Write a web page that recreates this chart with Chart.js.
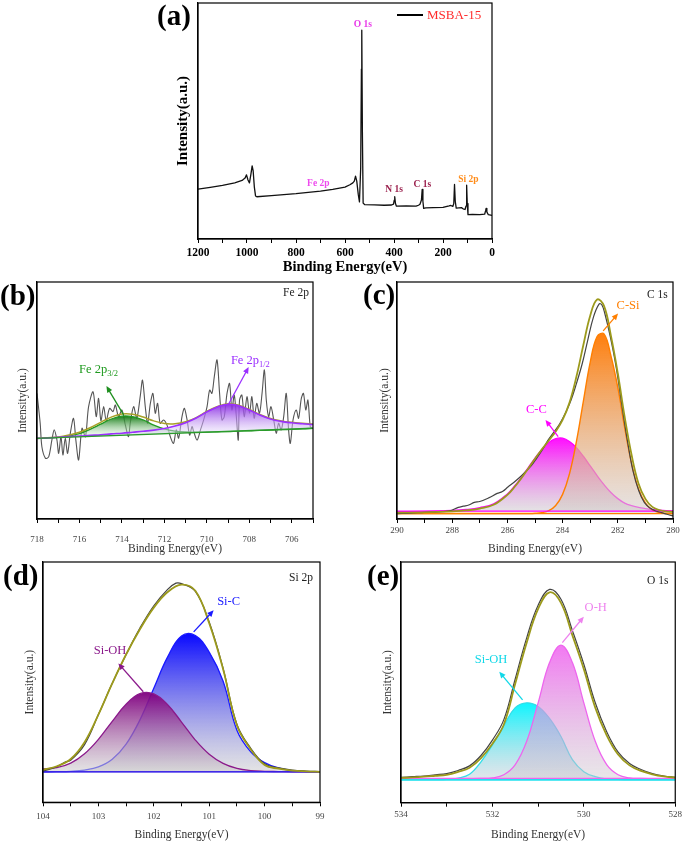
<!DOCTYPE html>
<html>
<head>
<meta charset="utf-8">
<title>XPS spectra MSBA-15</title>
<script src="https://cdn.jsdelivr.net/npm/chart.js@4.4.1/dist/chart.umd.min.js"></script>
<style>
    body { margin: 0; background: #fff; font-family: 'Liberation Serif', 'Times New Roman', serif; }
    .page { position: relative; width: 685px; height: 842px; overflow: hidden; background: #fff; }
    .panel { position: absolute; }
    .tag { position: absolute; font-weight: bold; font-size: 29px; line-height: 29px; color: #000; }
    .corner { position: absolute; font-size: 11.5px; line-height: 12px; color: #222; }
    .legend-line { position: absolute; left: 397px; top: 14px; width: 26px; height: 1.6px; background: #000; }
    .legend-text { position: absolute; left: 427px; top: 7px; font-size: 13px; line-height: 15px; color: #ff2b2b; }
</style>
</head>
<body>
<div class="page">
    <div class="panel" style="left:140px;top:0;width:360px;height:280px"><canvas id="surveyChart"></canvas></div>
    <div class="panel" style="left:0;top:280px;width:330px;height:280px"><canvas id="feChart"></canvas></div>
    <div class="panel" style="left:340px;top:280px;width:345px;height:280px"><canvas id="cChart"></canvas></div>
    <div class="panel" style="left:0;top:560px;width:330px;height:282px"><canvas id="siChart"></canvas></div>
    <div class="panel" style="left:340px;top:560px;width:345px;height:282px"><canvas id="oChart"></canvas></div>

    <div class="tag" style="left:157px;top:1px">(a)</div>
    <div class="tag" style="left:0;top:281px">(b)</div>
    <div class="tag" style="left:363px;top:280px">(c)</div>
    <div class="tag" style="left:3px;top:561px">(d)</div>
    <div class="tag" style="left:367px;top:561px">(e)</div>

    <div class="corner" style="left:283px;top:286px">Fe 2p</div>
    <div class="corner" style="left:647px;top:288px">C 1s</div>
    <div class="corner" style="left:289px;top:571px">Si 2p</div>
    <div class="corner" style="left:647px;top:574px">O 1s</div>

    <div class="legend-line"></div>
    <div class="legend-text">MSBA-15</div>
</div>
<script>
// (a) survey spectrum
const surveyEnergy = [1200, 1150, 1100, 1050, 1020, 1008, 1002, 996, 990, 984, 979, 975, 970, 965, 960, 900, 850, 800, 750, 700,
    650, 600, 580, 568, 562, 557, 552, 546, 541, 536, 533, 531.5, 529, 526, 520, 480, 440, 410, 402, 399,
    397, 394, 390, 350, 310, 300, 294, 288, 285, 282, 279, 270, 240, 200, 175, 168, 160, 156, 153, 150,
    146, 135, 125, 118, 110, 106, 103.5, 101, 98, 80, 50, 30, 26, 24, 21, 15, 5, 0];
const surveyCounts = [21.1, 21.9, 22.7, 23.8, 24.8, 25.8, 27.2, 25.0, 23.8, 27.5, 31.0, 29.0, 22.0, 18.2, 17.9, 18.4, 18.8, 19.2, 19.8, 20.3,
    21.0, 22.0, 23.0, 23.8, 24.5, 26.6, 24.5, 19.0, 15.7, 30.0, 72.0, 88.5, 45.0, 15.2, 14.6, 14.5, 14.3, 14.4, 14.8, 16.5,
    17.9, 15.0, 13.9, 14.0, 13.9, 14.3, 14.7, 16.5, 21.0, 16.0, 13.0, 13.2, 13.3, 13.4, 14.0, 14.2, 13.8, 15.0, 23.1, 16.0,
    13.1, 13.2, 13.3, 12.8, 12.5, 14.0, 22.8, 15.0, 10.3, 10.4, 10.3, 10.5, 12.0, 13.0, 11.5, 10.3, 10.1, 10.0];

// (b) Fe 2p
const feRawEnergy = [718.0, 717.85, 717.77, 717.6, 717.45, 717.3, 717.19, 717.06, 716.98, 716.87,
    716.78, 716.67, 716.56, 716.43, 716.28, 716.17, 716.04, 715.88, 715.72, 715.57,
    715.36, 715.21, 715.10, 714.99, 714.86, 714.74, 714.58, 714.42, 714.31, 714.16,
    714.00, 713.84, 713.69, 713.61, 713.45, 713.30, 713.13, 713.03, 712.90, 712.79,
    712.66, 712.54, 712.43, 712.32, 712.20, 712.04, 711.88, 711.72, 711.57, 711.44,
    711.33, 711.17, 711.06, 710.93, 710.81, 710.70, 710.62, 710.46, 710.30, 710.15,
    709.99, 709.87, 709.76, 709.65, 709.52, 709.40, 709.29, 709.18, 709.05, 708.93,
    708.82, 708.71, 708.61, 708.52, 708.46, 708.35, 708.24, 708.11, 707.99, 707.88,
    707.77, 707.65, 707.52, 707.40, 707.29, 707.20, 707.09, 706.98, 706.85, 706.73,
    706.62, 706.50, 706.38, 706.26, 706.15, 706.07, 705.94, 705.79, 705.68, 705.55,
    705.45, 705.34, 705.24, 705.13, 705.05];
const feRaw = [53.0, 40.4, 30.5, 25.6, 26.2, 33.3, 37.6, 33.3, 27.7, 34.7,
    27.0, 34.0, 27.7, 36.2, 42.5, 33.3, 24.9, 38.3, 34.7, 47.4,
    53.7, 43.2, 50.9, 41.5, 47.4, 41.5, 46.7, 45.3, 48.1, 43.2,
    46.0, 39.7, 34.7, 40.4, 47.4, 42.5, 52.3, 58.6, 47.4, 40.4,
    48.8, 53.0, 44.6, 48.8, 40.4, 41.8, 39.7, 34.7, 31.9, 37.6,
    34.1, 43.2, 46.7, 41.8, 35.4, 39.0, 36.9, 33.3, 37.6, 41.8,
    47.4, 54.4, 53.0, 60.0, 67.1, 53.0, 41.8, 43.2, 53.0, 57.2,
    46.0, 52.3, 43.2, 33.3, 50.2, 52.3, 43.2, 51.6, 44.6, 51.6,
    42.5, 48.8, 44.6, 53.0, 62.9, 50.2, 43.2, 47.4, 41.8, 36.2,
    40.4, 37.6, 43.2, 53.0, 37.6, 31.9, 41.8, 46.0, 42.5, 50.9,
    53.0, 46.0, 50.2, 39.0, 38.3];
const feFitEnergy = [718, 717.5, 717, 716.5, 716, 715.5, 715, 714.5, 714, 713.5, 713, 712.5, 712, 711.5,
    711, 710.5, 710, 709.5, 709, 708.5, 708, 707.5, 707, 706.5, 706, 705.5, 705];
const fe2p32 = [34.0, 34.2, 34.4, 35.0, 36.0, 37.8, 40.0, 42.2, 43.4, 43.2, 41.8, 39.6, 38.0, 37.1,
    36.7, 36.6, 36.7, 36.8, 36.9, 37.1, 37.2, 37.4, 37.5, 37.7, 37.8, 38.0, 38.3];
const fe2p12 = [34.0, 34.2, 34.5, 34.8, 35.0, 35.3, 35.5, 35.9, 36.2, 36.6, 37.0, 37.5, 38.2, 39.2,
    40.6, 42.6, 45.2, 47.3, 48.4, 47.8, 46.0, 43.9, 42.2, 41.2, 40.6, 40.2, 39.9];
const feEnvelope = [34.0, 34.3, 34.6, 35.4, 36.6, 38.5, 40.8, 43.0, 44.3, 44.2, 43.0, 41.4, 40.3, 40.2,
    41.0, 42.8, 45.4, 47.5, 48.6, 48.0, 46.2, 44.1, 42.4, 41.4, 40.8, 40.4, 40.1];
const feBaseEnergy = [718, 705];
const feBaseline = [34.0, 38.3];

// (c) C 1s
const cRawEnergy = [290, 289.5, 289, 288.5, 288.1, 287.78, 287.6, 287.4, 287.2, 287.0,
    286.68, 286.37, 286.18, 285.97, 285.77, 285.55, 285.34, 285.14, 284.93, 284.73,
    284.52, 284.32, 284.11, 283.91, 283.70, 283.50, 283.29, 283.09, 282.88, 282.68,
    282.58, 282.47, 282.27, 282.06, 281.86, 281.65, 281.45, 281.24, 281.04, 280.83,
    280.63, 280.42, 280.22, 280];
const cRaw = [2.3, 2.5, 2.8, 3.0, 3.4, 4.9, 5.4, 5.9, 7.0, 7.4,
    8.9, 10.8, 11.6, 13.6, 15.4, 17.6, 20.0, 22.4, 25.8, 29.2,
    33.4, 36.6, 40.1, 44.4, 50.0, 57.1, 65.5, 75.4, 85.3, 90.7,
    90.4, 86.7, 76.8, 64.1, 48.6, 33.0, 20.3, 11.9, 7.0, 4.6,
    3.4, 2.7, 2.0, 1.3];
const cFitEnergy = [290, 289, 288, 287.5, 287, 286.5, 286, 285.75, 285.5, 285.25, 285, 284.75, 284.5, 284.25,
    284, 283.75, 283.5, 283.25, 283, 282.75, 282.5, 282.25, 282, 281.75, 281.5, 281.25, 281, 280.75,
    280.5, 280.25, 280];
const cSi = [2.3, 2.3, 2.3, 2.3, 2.3, 2.3, 2.3, 2.3, 2.3, 2.3, 2.4, 2.7, 3.5, 5.7,
    10.4, 19.1, 32.6, 49.5, 66.1, 77.0, 78.1, 68.9, 55.5, 38.5, 23.5, 12.8, 6.8, 3.8,
    2.8, 2.4, 2.3];
const cC = [3.1, 3.2, 3.6, 4.0, 4.8, 6.4, 10.6, 13.8, 17.5, 21.6, 25.7, 29.4, 32.3, 33.9,
    34.1, 32.7, 30.1, 26.5, 22.4, 18.3, 14.5, 11.2, 8.6, 6.7, 5.6, 4.9, 4.4, 4.0,
    3.7, 3.5, 3.4];
const cEnvelope = [2.7, 2.8, 3.2, 3.6, 4.4, 6.0, 10.2, 13.4, 17.1, 21.2, 25.4, 29.4, 33.1, 36.9,
    41.8, 49.1, 60.0, 73.3, 85.8, 92.6, 89.9, 77.4, 61.5, 43.0, 27.0, 15.0, 8.5, 5.1,
    3.8, 3.2, 3.0];
const cBaseEnergy = [290, 280];
const cBaseSi = [2.3, 2.3];
const cBaseC = [3.3, 3.3];

// (d) Si 2p
const siFitEnergy = [104, 103.75, 103.5, 103.25, 103, 102.75, 102.5, 102.25, 102, 101.75, 101.5,
    101.25, 101, 100.75, 100.5, 100.25, 100, 99.75, 99.5, 99.25, 99];
const siC = [12.7, 12.75, 12.9, 13.4, 14.7, 17.9, 24.2, 34.3, 47.5, 60.5, 69.2,
    69.4, 62.5, 50.5, 30.0, 21.0, 16.5, 14.3, 13.2, 12.8, 12.7];
const siOH = [13.9, 14.4, 16.3, 20.2, 26.2, 33.7, 40.8, 45.2, 45.1, 40.6, 33.4,
    25.9, 20.0, 16.2, 14.1, 13.2, 12.9, 12.8, 12.7, 12.7, 12.7];
const siEnvelope = [13.5, 15.0, 18.0, 25.0, 36.5, 49.5, 61.5, 72.0, 81.0, 87.5, 90.6,
    88.0, 74.5, 55.5, 32.0, 22.0, 15.5, 14.0, 13.2, 12.9, 12.7];
const siRawEnergy = [104, 103.75, 103.6, 103.5, 103.25, 103, 102.75, 102.5, 102.25, 102, 101.75, 101.6,
    101.5, 101.25, 101, 100.75, 100.5, 100.25, 100, 99.75, 99.5, 99.25, 99];
const siRaw = [13.0, 14.8, 16.8, 17.5, 24.0, 36.5, 49.5, 61.5, 72.5, 81.8, 88.6, 91.2,
    91.0, 87.8, 75.0, 55.8, 32.5, 22.5, 16.0, 14.3, 13.4, 13.0, 12.8];
const siBaseEnergy = [104, 99];
const siBaseline = [12.7, 12.7];

// (e) O 1s
const oFitEnergy = [534, 533.75, 533.5, 533.25, 533, 532.75, 532.5, 532.25, 532, 531.75, 531.5, 531.25, 531,
    530.75, 530.5, 530.25, 530, 529.75, 529.5, 529.25, 529, 528.75, 528.5, 528.25, 528];
const oOH = [10, 10, 10, 10, 10, 10, 10, 10.05, 10.3, 11.6, 15.8, 25.5, 41.5,
    58.2, 65.5, 58.2, 41.5, 25.5, 15.8, 11.6, 10.3, 10.05, 10, 10, 10];
const oSiOH = [9.6, 9.6, 9.6, 9.6, 9.7, 10.2, 11.8, 17.0, 24.0, 32.0, 39.5, 41.5, 40.0,
    35.0, 27.5, 17.9, 12.9, 10.8, 9.9, 9.7, 9.6, 9.6, 9.6, 9.6, 9.6];
const oEnvelope = [10.3, 10.5, 10.8, 11.2, 11.6, 12.8, 14.5, 18.5, 24.5, 32.5, 49.5, 66.5, 80.5,
    87.4, 83.0, 69.5, 55.5, 39.5, 28.0, 20.0, 15.5, 13.2, 11.8, 10.9, 10.4];
const oRaw = [10.5, 10.8, 11.1, 11.6, 12.1, 13.4, 15.3, 19.6, 26.0, 34.5, 51.5, 68.5, 82.0,
    88.6, 84.5, 71.5, 57.5, 41.5, 29.5, 21.0, 16.3, 13.8, 12.1, 11.1, 10.5];
const oBaseEnergy = [534, 528];
const oBaseOH = [10.1, 10.1];
const oBaseSiOH = [9.5, 9.5];

const SERIF = "'Liberation Serif', 'Times New Roman', serif";

function pts(xs, ys) {
    return xs.map(function (x, i) { return { x: x, y: ys[i] }; });
}

function line(xs, ys, color, width, extra) {
    return Object.assign({
        data: pts(xs, ys),
        borderColor: color,
        borderWidth: width,
        pointRadius: 0,
        tension: 0,
        fill: false
    }, extra || {});
}

// vertical gradient from the peak of a component down to its baseline
function fade(topColor, peak, base, bottomColor) {
    return function (context) {
        const chart = context.chart;
        if (!chart.chartArea) return topColor;
        const y = chart.scales.y;
        const g = chart.ctx.createLinearGradient(0, y.getPixelForValue(peak), 0, y.getPixelForValue(base));
        g.addColorStop(0, topColor);
        g.addColorStop(1, bottomColor || 'rgba(205,205,205,0.55)');
        return g;
    };
}

function tickLabel(major) {
    return function (value) {
        const r = value / major;
        return Math.abs(r - Math.round(r)) < 1e-6 ? String(Math.round(value * 100) / 100) : '';
    };
}

const framePlugin = {
    id: 'frame',
    afterDraw: function (chart) {
        const a = chart.chartArea;
        const ctx = chart.ctx;
        ctx.save();
        ctx.strokeStyle = '#000';
        ctx.lineWidth = 1.2;
        ctx.strokeRect(a.left, a.top, a.right - a.left, a.bottom - a.top);
        ctx.restore();
    }
};

const notesPlugin = {
    id: 'notes',
    afterDatasetsDraw: function (chart, args, opts) {
        const ctx = chart.ctx;
        const xs = chart.scales.x;
        const ys = chart.scales.y;
        ctx.save();
        (opts.arrows || []).forEach(function (a) {
            const x1 = xs.getPixelForValue(a.from[0]), y1 = ys.getPixelForValue(a.from[1]);
            const x2 = xs.getPixelForValue(a.to[0]), y2 = ys.getPixelForValue(a.to[1]);
            const ang = Math.atan2(y2 - y1, x2 - x1);
            ctx.strokeStyle = a.color;
            ctx.fillStyle = a.color;
            ctx.lineWidth = 1.3;
            ctx.beginPath();
            ctx.moveTo(x1, y1);
            ctx.lineTo(x2 - 5 * Math.cos(ang), y2 - 5 * Math.sin(ang));
            ctx.stroke();
            ctx.beginPath();
            ctx.moveTo(x2, y2);
            ctx.lineTo(x2 - 7 * Math.cos(ang - 0.42), y2 - 7 * Math.sin(ang - 0.42));
            ctx.lineTo(x2 - 7 * Math.cos(ang + 0.42), y2 - 7 * Math.sin(ang + 0.42));
            ctx.closePath();
            ctx.fill();
        });
        (opts.labels || []).forEach(function (l) {
            const x = xs.getPixelForValue(l.x);
            const y = ys.getPixelForValue(l.y);
            const size = l.size || 12.5;
            const weight = l.bold ? 'bold ' : '';
            const mainFont = weight + size + 'px ' + SERIF;
            const subFont = weight + (size * 0.68).toFixed(1) + 'px ' + SERIF;
            ctx.font = mainFont;
            const w1 = ctx.measureText(l.text).width;
            let w2 = 0;
            if (l.sub) {
                ctx.font = subFont;
                w2 = ctx.measureText(l.sub).width;
            }
            const left = x - (w1 + w2) / 2;
            ctx.fillStyle = l.color;
            ctx.textAlign = 'left';
            ctx.textBaseline = 'middle';
            ctx.font = mainFont;
            ctx.fillText(l.text, left, y);
            if (l.sub) {
                ctx.font = subFont;
                ctx.fillText(l.sub, left + w1, y + size * 0.32);
            }
        });
        ctx.restore();
    }
};

function drawPanel(canvasId, s) {
    return new Chart(document.getElementById(canvasId), {
        type: 'line',
        data: { datasets: s.datasets },
        options: {
            responsive: true,
            maintainAspectRatio: false,
            animation: false,
            layout: { padding: { left: 0, right: s.padRight, top: s.padTop, bottom: 0 } },
            elements: { point: { radius: 0 }, line: { borderJoinStyle: 'round' } },
            plugins: {
                legend: { display: false },
                tooltip: { enabled: false },
                notes: { labels: s.labels || [], arrows: s.arrows || [] }
            },
            scales: {
                x: {
                    type: 'linear',
                    reverse: true,
                    min: s.xMin,
                    max: s.xMax,
                    afterFit: function (scale) { scale.height = s.xHeight; },
                    border: { color: '#000', width: 1.2 },
                    grid: { drawOnChartArea: false, drawTicks: true, tickLength: 4, color: '#000' },
                    ticks: {
                        stepSize: s.minorStep,
                        autoSkip: false,
                        maxRotation: 0,
                        padding: s.tickPad,
                        color: s.tickColor,
                        font: s.tickFont,
                        callback: tickLabel(s.majorStep)
                    },
                    title: {
                        display: true,
                        text: 'Binding Energy(eV)',
                        color: s.titleColor,
                        font: s.xTitleFont,
                        padding: { top: 0, bottom: s.xTitlePad }
                    }
                },
                y: {
                    min: 0,
                    max: 100,
                    afterFit: function (scale) { scale.width = s.yWidth; },
                    border: { color: '#000', width: 1.2 },
                    grid: { display: false },
                    ticks: { display: false },
                    title: {
                        display: true,
                        text: 'Intensity(a.u.)',
                        color: s.titleColor,
                        font: s.yTitleFont,
                        padding: { top: s.yTitlePad, bottom: 0 }
                    }
                }
            }
        },
        plugins: [framePlugin, notesPlugin]
    });
}

const smooth = { tension: 0.4 };
const small = { tickColor: '#444', titleColor: '#333',
    tickFont: { family: SERIF, size: 9 },
    xTitleFont: { family: SERIF, size: 11.5 },
    yTitleFont: { family: SERIF, size: 11.5 } };

// (a)
drawPanel('surveyChart', {
    xMin: 0, xMax: 1200, minorStep: 100, majorStep: 200,
    xHeight: 41, yWidth: 58, padRight: 8, padTop: 3,
    tickPad: 3, xTitlePad: 4.3, yTitlePad: 34,
    tickColor: '#000', titleColor: '#000',
    tickFont: { family: SERIF, size: 11.5, weight: 'bold' },
    xTitleFont: { family: SERIF, size: 14.5, weight: 'bold' },
    yTitleFont: { family: SERIF, size: 15, weight: 'bold' },
    datasets: [line(surveyEnergy, surveyCounts, '#111', 1.3)],
    labels: [
        { text: 'O 1s', x: 527.6, y: 91.0, color: '#e838e8', size: 9.5, bold: true },
        { text: 'Fe 2p', x: 709, y: 23.6, color: '#ee4aee', size: 9.5, bold: true },
        { text: 'N 1s', x: 400, y: 21.1, color: '#9a1f4c', size: 9.5, bold: true },
        { text: 'C 1s', x: 284, y: 23.1, color: '#9a1f4c', size: 9.5, bold: true },
        { text: 'Si 2p', x: 96, y: 25.2, color: '#ff8c1a', size: 9.5, bold: true }
    ]
});

// (b)
drawPanel('feChart', Object.assign({}, small, {
    xMin: 705, xMax: 718, minorStep: 1, majorStep: 2,
    xHeight: 41, yWidth: 37, padRight: 17, padTop: 2,
    tickPad: 11, xTitlePad: 4.6, yTitlePad: 16.1,
    datasets: [
        line(feBaseEnergy, feBaseline, '#2b9b2b', 1.3, { order: 2 }),
        line(feFitEnergy, fe2p32, '#239b23', 1.3, Object.assign({ order: 5, fill: 0,
            backgroundColor: fade('rgba(12,118,12,0.95)', 43.4, 35.5, 'rgba(200,235,200,0.35)') }, smooth)),
        line(feFitEnergy, fe2p12, '#9b30ff', 1.6, Object.assign({ order: 3, fill: 0,
            backgroundColor: fade('rgba(138,43,226,0.95)', 48.4, 37, 'rgba(225,210,250,0.45)') }, smooth)),
        line(feFitEnergy, feEnvelope, '#a8a028', 1.5, Object.assign({ order: 4 }, smooth)),
        line(feRawEnergy, feRaw, '#555', 1.1, { order: 6, tension: 0.3 })
    ],
    labels: [
        { text: 'Fe 2p', sub: '3/2', x: 715.1, y: 62.9, color: '#1f9a1f' },
        { text: 'Fe 2p', sub: '1/2', x: 707.95, y: 66.8, color: '#9b30ff' }
    ],
    arrows: [
        { from: [713.92, 43.9], to: [714.73, 56.1], color: '#1f8f1f' },
        { from: [709.0, 48.1], to: [708.03, 64.1], color: '#9b30ff' }
    ]
}));

// (c)
drawPanel('cChart', Object.assign({}, small, {
    xMin: 280, xMax: 290, minorStep: 1, majorStep: 2,
    xHeight: 41, yWidth: 57, padRight: 12, padTop: 2,
    tickPad: 2.3, xTitlePad: 4.1, yTitlePad: 38.1,
    datasets: [
        line(cBaseEnergy, cBaseC, '#ff00ff', 1.3, { order: 3 }),
        line(cBaseEnergy, cBaseSi, '#ff8000', 1.3, { order: 3 }),
        line(cFitEnergy, cC, '#ff00ff', 1.3, Object.assign({ order: 6, fill: { value: 3.1 },
            backgroundColor: fade('rgba(255,0,255,0.95)', 34.1, 3.1) }, smooth)),
        line(cFitEnergy, cSi, '#ff7f00', 1.4, Object.assign({ order: 5, fill: { value: 2.3 },
            backgroundColor: fade('rgba(255,120,0,0.95)', 78.1, 2.3, 'rgba(210,205,205,0.55)') }, smooth)),
        line(cRawEnergy, cRaw, '#444', 1.2, Object.assign({ order: 2 }, smooth)),
        line(cFitEnergy, cEnvelope, '#9c9a1c', 1.8, Object.assign({ order: 1 }, smooth))
    ],
    labels: [
        { text: 'C-C', x: 284.95, y: 46.0, color: '#ff00ff' },
        { text: 'C-Si', x: 281.63, y: 89.8, color: '#ff7f00' }
    ],
    arrows: [
        { from: [284.16, 34.8], to: [284.62, 41.8], color: '#ff00ff' },
        { from: [282.53, 79.4], to: [281.99, 86.7], color: '#ff7f00' }
    ]
}));

// (d)
drawPanel('siChart', Object.assign({}, small, {
    xMin: 99, xMax: 104, minorStep: 0.5, majorStep: 1,
    xHeight: 39.7, yWidth: 43, padRight: 10, padTop: 2,
    tickPad: 5.3, xTitlePad: 0, yTitlePad: 23.1,
    datasets: [
        line(siBaseEnergy, siBaseline, '#2020ff', 1.3, { order: 3 }),
        line(siBaseEnergy, siBaseline, '#8b1a8b', 1.1, { order: 3 }),
        line(siFitEnergy, siC, '#1a1aff', 1.3, Object.assign({ order: 6, fill: { value: 12.7 },
            backgroundColor: fade('rgba(0,0,255,0.95)', 69.4, 12.7) }, smooth)),
        line(siFitEnergy, siOH, '#8b1a8b', 1.3, Object.assign({ order: 5, fill: { value: 12.7 },
            backgroundColor: fade('rgba(128,0,128,0.95)', 45.2, 12.7) }, smooth)),
        line(siRawEnergy, siRaw, '#444', 1.2, Object.assign({ order: 2 }, smooth)),
        line(siFitEnergy, siEnvelope, '#9c9a1c', 1.8, Object.assign({ order: 1 }, smooth))
    ],
    labels: [
        { text: 'Si-C', x: 100.65, y: 83.5, color: '#1a1aff' },
        { text: 'Si-OH', x: 102.79, y: 63.1, color: '#8b1a8b' }
    ],
    arrows: [
        { from: [101.28, 70.9], to: [100.92, 79.9], color: '#1a1aff' },
        { from: [102.19, 46.0], to: [102.64, 57.8], color: '#8b1a8b' }
    ]
}));

// (e)
drawPanel('oChart', Object.assign({}, small, {
    xMin: 528, xMax: 534, minorStep: 1, majorStep: 2,
    xHeight: 39.3, yWidth: 61, padRight: 8.3, padTop: 2,
    tickPad: 3, xTitlePad: 0, yTitlePad: 41.1,
    datasets: [
        line(oBaseEnergy, oBaseSiOH, '#22e0ee', 1.6, { order: 3 }),
        line(oBaseEnergy, oBaseOH, '#ee66ee', 1.3, { order: 3 }),
        line(oFitEnergy, oSiOH, '#33dde8', 1.3, Object.assign({ order: 6, fill: { value: 9.6 },
            backgroundColor: fade('rgba(0,245,255,0.95)', 41.5, 9.6, 'rgba(200,205,215,0.5)') }, smooth)),
        line(oFitEnergy, oOH, '#ee66ee', 1.3, Object.assign({ order: 5, fill: { value: 10 },
            backgroundColor: fade('rgba(240,96,240,0.85)', 65.5, 10, 'rgba(205,200,205,0.45)') }, smooth)),
        line(oFitEnergy, oRaw, '#444', 1.2, Object.assign({ order: 2 }, smooth)),
        line(oFitEnergy, oEnvelope, '#9c9a1c', 1.8, Object.assign({ order: 1 }, smooth))
    ],
    labels: [
        { text: 'O-H', x: 529.74, y: 80.8, color: '#ee82ee' },
        { text: 'Si-OH', x: 532.03, y: 59.3, color: '#11d8e8' }
    ],
    arrows: [
        { from: [530.47, 66.5], to: [530.0, 77.3], color: '#ee82ee' },
        { from: [531.34, 42.7], to: [531.85, 54.4], color: '#11d8e8' }
    ]
}));
</script>
</body>
</html>
